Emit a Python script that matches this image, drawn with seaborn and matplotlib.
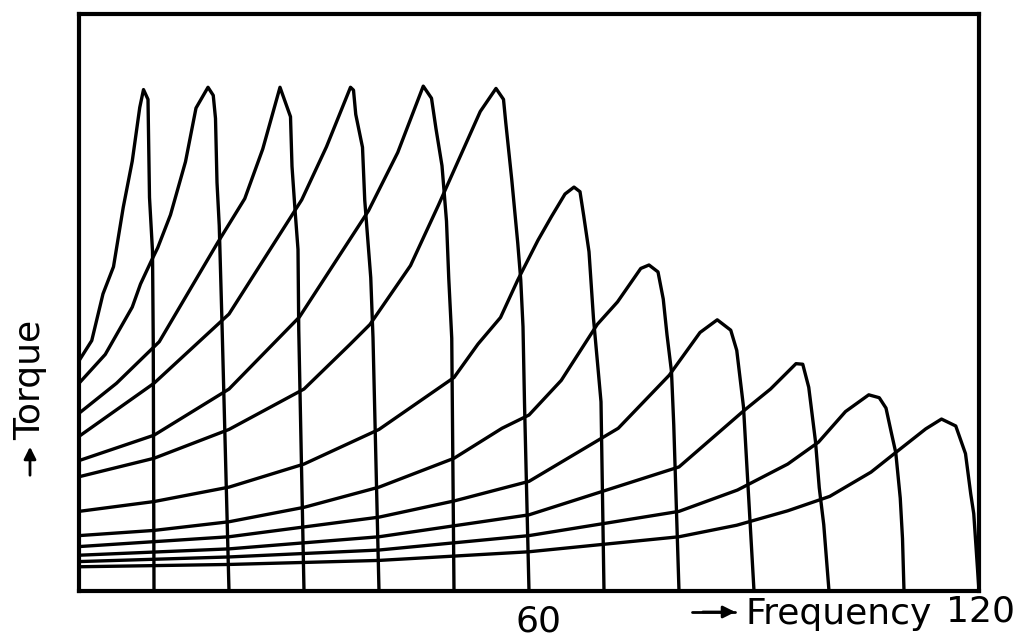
import numpy as np
import pandas as pd
import seaborn as sns
import matplotlib.pyplot as plt

# Torque-speed curves of an induction motor under variable-frequency supply.
# Each curve: rotor speed expressed in Hz (x) against torque (arbitrary units).
sync_freq = [10, 20, 30, 40, 50, 60, 70, 80, 90, 100, 110, 120]

freq_1 = [0, 1.7, 3.2, 4.6, 5.9, 7.1, 8.1, 8.6, 9.2, 9.4, 9.8, 9.9, 10.0]
torque_1 = [39.9, 43.4, 51.5, 56.2, 66.5, 74.5, 83.8, 86.9, 85.2, 68.2, 58.9, 43.2, 0]

freq_2 = [0, 3.5, 7.1, 8.2, 9.6, 10.5, 12.2, 14.2, 15.6, 17.2, 17.9, 18.2, 18.4, 18.7, 19.05, 20.0]
torque_2 = [36.0, 41.0, 49.2, 53.2, 57.1, 59.5, 65.2, 74.4, 83.7, 87.3, 85.9, 81.9, 70.8, 63.3, 47.2, 0]

freq_3 = [0, 5, 10.7, 18.5, 22.1, 24.5, 26.8, 28.2, 28.4, 28.8, 29.2, 29.3, 30]
torque_3 = [30.8, 36, 43.2, 60.4, 68.0, 76.6, 87.3, 82.2, 73.6, 66.1, 59.2, 45.3, 0]

freq_4 = [0, 10, 20, 29.7, 33, 36.2, 36.6, 36.9, 37.8, 38.1, 38.9, 39.2, 40]
torque_4 = [26.8, 36, 48, 67.8, 77, 87.3, 86.8, 82.6, 76.9, 67.7, 54.3, 43.9, 0]

freq_5 = [0, 10, 20, 29.4, 38.6, 42.5, 45.9, 47.0, 47.6, 48.4, 49.0, 49.3, 49.7, 50]
torque_5 = [22.6, 27, 35, 47.5, 65.9, 76, 87.5, 85.4, 80.1, 73.7, 64.1, 54.2, 43.8, 0]

freq_6 = [0, 10, 20, 30, 36.1, 38.8, 44.2, 47.9, 53.5, 55.6, 56.6, 56.9, 57.7, 58.5, 58.9, 59.2, 59.4, 60]
torque_6 = [19.8, 23, 28, 35, 42.7, 46.2, 56.4, 66.8, 83.1, 87.1, 85.2, 81.2, 71.3, 60.3, 53.9, 45.8, 32.6, 0]

freq_7 = [0, 10, 20, 30, 40, 50, 53.2, 56.2, 58.5, 61.2, 63.0, 64.8, 66.0, 66.8, 67.3, 68.0, 68.6, 69.2, 69.6, 70]
torque_7 = [13.8, 15.5, 18, 22, 28, 37, 42.8, 47.4, 53.9, 60.8, 64.9, 68.8, 70.0, 69.2, 65.0, 58.8, 47.2, 38.6, 32.8, 0]

freq_8 = [0, 10, 20, 30, 40, 50, 56.4, 60.0, 64.3, 69.1, 71.8, 74.9, 76.0, 77.2, 77.9, 78.4, 79.0, 79.3, 80]
torque_8 = [9.6, 10.5, 12, 14.5, 18, 23, 28.2, 30.5, 36.5, 46.2, 50.1, 55.9, 56.5, 55.3, 50.6, 44.4, 38.0, 28.8, 0]

freq_9 = [0, 20, 40, 50, 60, 71.9, 78.7, 82.8, 85.1, 86.9, 87.7, 88.6, 90]
torque_9 = [7.7, 9.4, 12.8, 15.6, 19.0, 28.2, 37.4, 44.8, 47.0, 45.2, 41.7, 31.9, 0]

freq_10 = [0, 20, 40, 60, 80, 88.6, 92.2, 95.6, 96.5, 97.3, 98.2, 98.7, 99.3, 100]
torque_10 = [6.2, 7.3, 9.4, 13.2, 21.5, 31.2, 35, 39.4, 39.3, 35.3, 25.9, 17.9, 11.5, 0]

freq_11 = [0, 20, 40, 60, 80, 87.8, 94.5, 98.6, 102.2, 105.3, 106.7, 107.6, 108.3, 108.9, 109.5, 109.8, 110]
torque_11 = [5.1, 5.9, 7.1, 9.6, 13.8, 17.5, 22.0, 25.8, 31.1, 34.0, 33.5, 31.7, 27.5, 24.0, 16.1, 9.1, 0]

freq_12 = [0, 20, 40, 60, 80, 87.7, 94.5, 100.1, 105.6, 108.8, 112.9, 115.0, 116.9, 118.2, 118.9, 119.3, 119.6, 120]
torque_12 = [4.2, 4.6, 5.3, 6.8, 9.4, 11.4, 13.9, 16.4, 20.6, 23.9, 28.1, 29.8, 28.6, 23.8, 16.8, 13.4, 7.7, 0]

freqs = [freq_1, freq_2, freq_3, freq_4, freq_5, freq_6,
         freq_7, freq_8, freq_9, freq_10, freq_11, freq_12]
torques = [torque_1, torque_2, torque_3, torque_4, torque_5, torque_6,
           torque_7, torque_8, torque_9, torque_10, torque_11, torque_12]

rows = []
for fs, fr, tq in zip(sync_freq, freqs, torques):
    for i, (a, b) in enumerate(zip(fr, tq)):
        rows.append({"supply": fs, "step": i, "speed": a, "torque": b})
df = pd.DataFrame(rows)

sns.set_style("white")
plt.rcParams["font.family"] = ["DejaVu Sans"]
plt.rcParams["text.color"] = "black"

W, H = 1022, 642
fig = plt.figure(figsize=(W / 100, H / 100), dpi=100)
ax = fig.add_axes([79 / W, 1 - 591 / H, 900 / W, 577 / H])

sns.lineplot(data=df, x="speed", y="torque", hue="supply", estimator=None,
             sort=False, palette=["black"] * len(sync_freq), legend=False,
             linewidth=2.4, ax=ax)

ax.set_xlim(0, 120)
ax.set_ylim(0, 100)
ax.set_xticks([])
ax.set_yticks([])
ax.set_xlabel("")
ax.set_ylabel("")
for sp in ax.spines.values():
    sp.set_visible(True)
    sp.set_color("black")
    sp.set_linewidth(3)

def ftext(x, y, s, **kw):
    fig.text(x / W, 1 - y / H, s, color="black", **kw)

fs_lbl = 26
ftext(538, 622, "60", ha="center", va="center", fontsize=fs_lbl)
ftext(745, 614, "Frequency", ha="left", va="center", fontsize=fs_lbl)
ftext(980, 612, "120", ha="center", va="center", fontsize=fs_lbl)
fig.add_artist(plt.Line2D([692 / W, 735 / W], [1 - 612 / H, 1 - 612 / H],
                          color="black", lw=2))
ax.annotate("", xy=(738 / W, 1 - 612 / H), xytext=(700 / W, 1 - 612 / H),
            xycoords="figure fraction",
            arrowprops=dict(arrowstyle="-|>", color="black", lw=2,
                            mutation_scale=18))
ftext(30, 380, "Torque", ha="center", va="center", rotation=90, fontsize=fs_lbl)
ax.annotate("", xy=(30 / W, 1 - 444 / H), xytext=(30 / W, 1 - 478 / H),
            xycoords="figure fraction",
            arrowprops=dict(arrowstyle="-|>", color="black", lw=2,
                            mutation_scale=18))

fig.savefig("out.png", dpi=100)
